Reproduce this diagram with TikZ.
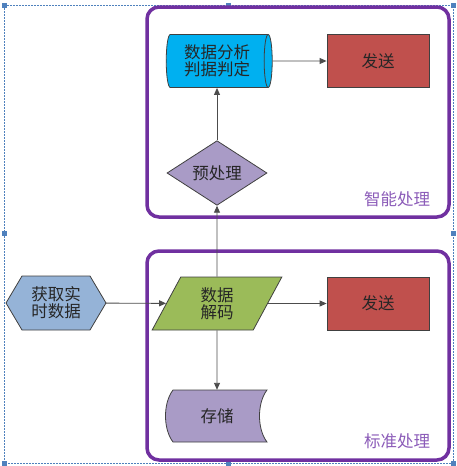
\documentclass[tikz,border=0pt]{standalone}
\usepackage{fontspec}
\setmainfont{Noto Sans CJK SC}
\usetikzlibrary{shapes.geometric,arrows.meta}
\definecolor{grpline}{HTML}{7030A0}
\definecolor{grptext}{HTML}{8B5BB8}
\definecolor{cyanfill}{HTML}{00B0F0}
\definecolor{redfill}{HTML}{C0504D}
\definecolor{lavfill}{HTML}{A99BC6}
\definecolor{greenfill}{HTML}{9BBB59}
\definecolor{bluefill}{HTML}{95B3D7}
\definecolor{framecol}{HTML}{4F81BD}
\begin{document}
\begin{tikzpicture}[x=1pt,y=-1pt,
   >={Triangle[length=7pt,width=6pt]},
   every node/.style={font=\fontsize{16.5}{17}\selectfont,text=black!85,align=center,inner sep=0pt},
   flow/.style={draw=black!75,line width=0.8pt},
   link/.style={->,draw=black!70,line width=0.9pt},
   group/.style={draw=grpline,line width=3.5pt,rounded corners=12pt},
   grouplabel/.style={text=grptext}]
   \useasboundingbox (0,0) rectangle (456,466);
   \draw[framecol,dash pattern=on 2pt off 1pt,line width=0.6pt] (4,5) rectangle (453,463);
   \foreach \x/\y in {4/5,228/5,453/5,4/233,453/233,4/463,228/463,453/463} {
    \fill[framecol] (\x-2.5,\y-2.5) rectangle (\x+2.5,\y+2.5);
   }
   \draw[group] (147,7) rectangle (449,217);
   \draw[group] (147,251) rectangle (449,460);
   \node[grouplabel] (smartlbl) at (397,199) {智能处理};
   \node[grouplabel] (stdlbl) at (397,441) {标准处理};
   \filldraw[flow,fill=bluefill] (6,303) -- (22,276) -- (90,276) -- (106,303) --
    (90,330) -- (22,330) -- cycle;
   \node[minimum width=100pt,minimum height=54pt] (input) at (56,303) {获取实\\时数据};
   \node[trapezium,trapezium left angle=68,trapezium right angle=112,trapezium stretches=true,
    flow,fill=greenfill,minimum width=130pt,minimum height=53pt] (decode) at (217,303.5) {数据\\解码};
   \node[diamond,flow,fill=lavfill,minimum width=100pt,minimum height=52pt] (pre) at (217,173) {预处理};
   \node[cylinder,aspect=0.25,flow,fill=cyanfill,minimum width=53pt,minimum height=106pt]
    (analyse) at (217,61) {数据分析\\判据判定};
   \node[flow,fill=redfill,minimum width=102pt,minimum height=53pt] (send1) at (378,61) {发送};
   \node[flow,fill=redfill,minimum width=102pt,minimum height=53pt] (send2) at (378,303.5) {发送};
   \filldraw[flow,fill=lavfill] (173,390) -- (267,390) .. controls (257,403) and (257,429) ..
    (267,442) -- (173,442) .. controls (163,429) and (163,403) .. (173,390) -- cycle;
   \node[minimum width=100pt,minimum height=52pt] (store) at (217,416) {存储};
   \draw[link] (input) -- (decode);
   \draw[link] (decode) -- (send2);
   \draw[link] (decode) -- (store);
   \draw[link] (decode) -- (pre);
   \draw[link] (pre) -- (pre |- analyse.south);
   \draw[link] (analyse) -- (send1);
  \end{tikzpicture}
\end{document}
